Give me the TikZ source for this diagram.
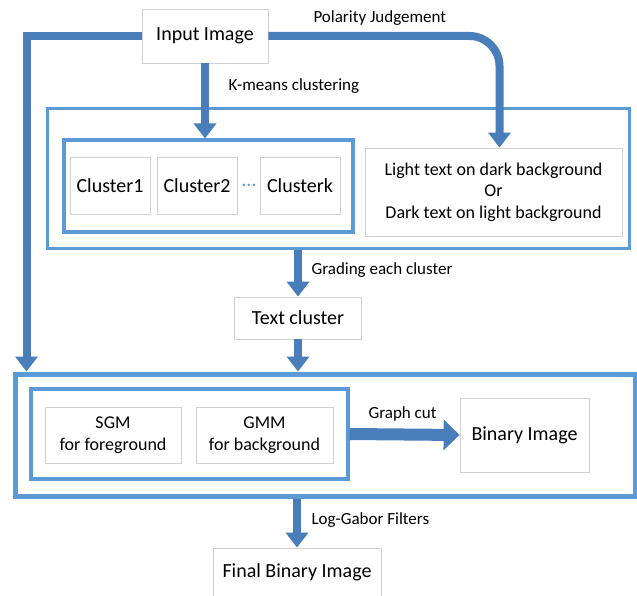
\documentclass[tikz,border=0pt]{standalone}
\usepackage{fontspec}
\setmainfont{Carlito}
\usetikzlibrary{arrows.meta}
\definecolor{arrowblue}{RGB}{74,126,187}
\definecolor{frameblue}{RGB}{91,155,213}

\begin{document}
\begin{tikzpicture}[x=1pt, y=-1pt,
    box/.style={draw=black!18, fill=white, line width=0.8pt, inner sep=2pt, align=center},
    frame/.style={draw=frameblue, line width=4.5pt},
    arr/.style={draw=arrowblue, line width=8pt, -{Triangle[width=22pt,length=15pt]}},
    lbl/.style={font=\fontsize{17}{20}\selectfont, anchor=west}]
    \useasboundingbox (0,0) rectangle (637,596);

    % Frames
    \node[frame, line width=3pt, minimum width=582pt, minimum height=139pt] (outerA) at (338.5,178.5) {};
    \node[frame, line width=4pt, minimum width=289pt, minimum height=91pt] (groupA) at (208,186) {};
    \node[frame, line width=5pt, minimum width=620pt, minimum height=122pt] (outerB) at (325,435) {};
    \node[frame, line width=4pt, minimum width=317pt, minimum height=90pt] (groupB) at (189,434) {};

    % Boxes
    \node[box, minimum width=126pt, minimum height=54pt, font=\fontsize{20}{24}\selectfont] (input) at (205,36) {Input Image};
    \node[box, minimum width=80pt, minimum height=57pt, font=\fontsize{20}{24}\selectfont] (clusterA) at (110,186) {Cluster1};
    \node[box, minimum width=80pt, minimum height=57pt, font=\fontsize{20}{24}\selectfont] (clusterB) at (197,186) {Cluster2};
    \node[box, minimum width=80pt, minimum height=57pt, font=\fontsize{20}{24}\selectfont] (clusterK) at (300,186) {Clusterk};
    \node[text=frameblue, font=\fontsize{20}{24}\selectfont] (dots) at (249,185) {...};
    \node[box, minimum width=257pt, minimum height=88pt, font=\fontsize{18}{21.5}\selectfont] (polar) at (493.5,192) {Light text on dark background\\Or\\Dark text on light background};
    \node[box, minimum width=127pt, minimum height=42pt, font=\fontsize{20}{24}\selectfont] (textc) at (298,318) {Text cluster};
    \node[box, minimum width=136pt, minimum height=56pt, font=\fontsize{18}{22}\selectfont] (sgm) at (113,435) {SGM\\for foreground};
    \node[box, minimum width=137pt, minimum height=56pt, font=\fontsize{18}{22}\selectfont] (gmm) at (264.5,435) {GMM\\for background};
    \node[box, minimum width=129pt, minimum height=74pt, font=\fontsize{20}{24}\selectfont] (binary) at (524.5,435) {Binary Image};
    \node[box, minimum width=168pt, minimum height=48pt, font=\fontsize{20}{24}\selectfont] (final) at (297,572) {Final Binary Image};

    % Arrows
    \draw[arr, rounded corners=30pt] (input.east) -| ([xshift=6pt]polar.north);
    \draw[arr] (input.west) -| ([xshift=14pt]outerB.north west);
    \draw[arr] (input.south) -- (input.south |- groupA.north);
    \draw[arr] (outerA.south -| textc.north) -- (textc.north);
    \draw[arr] (textc.south) -- (textc.south |- outerB.north);
    \draw[arr, line width=12pt, -{Triangle[width=30pt,length=16pt]}] (groupB.east) -- (binary.west);
    \draw[arr] (outerB.south -| final.north) -- (final.north);

    % Labels
    \node[lbl] (lblPolar) at (310,18) {Polarity Judgement};
    \node[lbl] (lblKmeans) at (225,86) {K-means clustering};
    \node[lbl] (lblGrade) at (308,270) {Grading each cluster};
    \node[lbl] (lblCut) at (365,414) {Graph cut};
    \node[lbl] (lblGabor) at (308,520) {Log-Gabor Filters};
\end{tikzpicture}
\end{document}
